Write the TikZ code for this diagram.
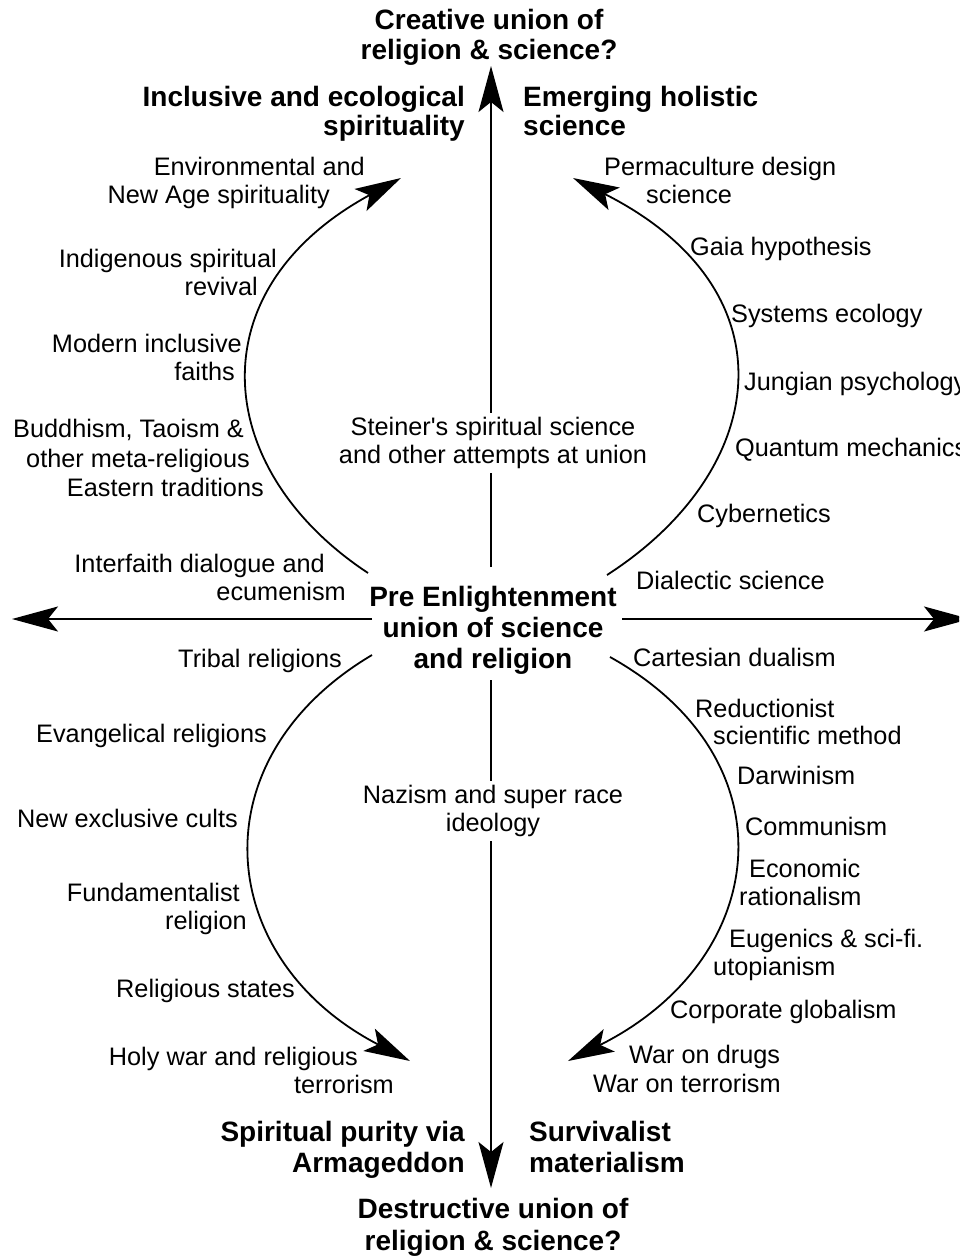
\documentclass[tikz,border=0pt]{standalone}
\usepackage{fontspec}
\setmainfont{Liberation Sans}[Ligatures=TeXOff]
\usetikzlibrary{arrows.meta}
\begin{document}
\begin{tikzpicture}[x=1pt,y=-1pt,
  labR/.style={font=\fontsize{25.3}{28}\selectfont, inner sep=0pt, anchor=base east},
  labL/.style={font=\fontsize{25.3}{28}\selectfont, inner sep=0pt, anchor=base west},
  midlab/.style={font=\fontsize{25.3}{28.5}\selectfont, align=center, fill=white, inner sep=4pt},
  hdR/.style={font=\fontsize{28}{30}\selectfont\bfseries, inner sep=0pt, anchor=base east},
  hdL/.style={font=\fontsize{28}{30}\selectfont\bfseries, inner sep=0pt, anchor=base west},
  hdC/.style={font=\fontsize{28}{30}\selectfont\bfseries, inner sep=0pt, anchor=base},
  ctrlab/.style={font=\fontsize{28}{31}\selectfont\bfseries, align=center, inner sep=2pt},
  arr/.style={line width=1.8pt, -{Stealth[length=46pt,width=25pt,inset=10pt]}}]
\useasboundingbox (0,0) rectangle (959,1257);
\clip (0,0) rectangle (959,1257);

% axis coordinates
\coordinate (L0) at (372,619);  \coordinate (Ltip) at (12,619);
\coordinate (R0) at (622,619);  \coordinate (Rtip) at (970,619);
\coordinate (U0) at (491,567);  \coordinate (Utip) at (491,66);
\coordinate (D0) at (491,680);  \coordinate (Dtip) at (491,1188);
% curve coordinates
\coordinate (ULs) at (368,573); \coordinate (ULt) at (401,178);
\coordinate (URs) at (607,575); \coordinate (URt) at (573,178);
\coordinate (LLs) at (372,655); \coordinate (LLt) at (410,1061);
\coordinate (LRs) at (610,657); \coordinate (LRt) at (568,1061);

\draw[arr] (L0) -- (Ltip);
\draw[arr] (R0) -- (Rtip);
\draw[arr] (U0) -- (Utip);
\draw[arr] (D0) -- (Dtip);
\draw[arr] (ULs) .. controls (212,470) and (195,290) .. (ULt);
\draw[arr] (URs) .. controls (770,470) and (795,290) .. (URt);
\draw[arr] (LLs) .. controls (195,760) and (215,960) .. (LLt);
\draw[arr] (LRs) .. controls (795,760) and (770,960) .. (LRt);

% centre
\node[ctrlab] (ctr) at (493,630) {Pre Enlightenment\\union of science\\and religion};
\node[midlab] (steiner) at (493,443) {Steiner's spiritual science\\and other attempts at union};
\node[midlab] (nazism) at (493,811) {Nazism and super race\\ideology};

% headings
\node[hdC] (top1) at (489,30) {Creative union of};
\node[hdC] (top2) at (489,60) {religion \& science?};
\node[hdR] (incl1) at (465,107) {Inclusive and ecological};
\node[hdR] (incl2) at (465,136) {spirituality};
\node[hdL] (emer1) at (523,107) {Emerging holistic};
\node[hdL] (emer2) at (523,136) {science};
\node[hdR] (spir1) at (465,1141) {Spiritual purity via};
\node[hdR] (spir2) at (465,1172) {Armageddon};
\node[hdL] (surv1) at (529,1141) {Survivalist};
\node[hdL] (surv2) at (529,1172) {materialism};
\node[hdC] (bot1) at (493,1218) {Destructive union of};
\node[hdC] (bot2) at (493,1250) {religion \& science?};

% upper left
\node[labR] (ul1a) at (365,176) {Environmental and};
\node[labR] (ul1b) at (330,204) {New Age spirituality};
\node[labR] (ul2a) at (277,267) {Indigenous spiritual};
\node[labR] (ul2b) at (258,295) {revival};
\node[labR] (ul3a) at (242,352) {Modern inclusive};
\node[labR] (ul3b) at (235,380) {faiths};
\node[labR] (ul4a) at (244,437) {Buddhism, Taoism \&};
\node[labR] (ul4b) at (250,467) {other meta-religious};
\node[labR] (ul4c) at (264,496) {Eastern traditions};
\node[labR] (ul5a) at (325,572) {Interfaith dialogue and};
\node[labR] (ul5b) at (346,600) {ecumenism};

% upper right
\node[labL] (ur1a) at (604,176) {Permaculture design};
\node[labL] (ur1b) at (646,204) {science};
\node[labL] (ur2) at (690,255) {Gaia hypothesis};
\node[labL] (ur3) at (731,322) {Systems ecology};
\node[labL] (ur4) at (744,390) {Jungian psychology};
\node[labL] (ur5) at (735,456) {Quantum mechanics};
\node[labL] (ur6) at (697,522) {Cybernetics};
\node[labL] (ur7) at (636,589) {Dialectic science};

% lower left
\node[labR] (ll1) at (342,667) {Tribal religions};
\node[labR] (ll2) at (267,742) {Evangelical religions};
\node[labR] (ll3) at (238,827) {New exclusive cults};
\node[labR] (ll4a) at (240,901) {Fundamentalist};
\node[labR] (ll4b) at (247,929) {religion};
\node[labR] (ll5) at (295,997) {Religious states};
\node[labR] (ll6a) at (358,1065) {Holy war and religious};
\node[labR] (ll6b) at (394,1093) {terrorism};

% lower right
\node[labL] (lr1) at (633,666) {Cartesian dualism};
\node[labL] (lr2a) at (695,717) {Reductionist};
\node[labL] (lr2b) at (713,744) {scientific method};
\node[labL] (lr3) at (737,784) {Darwinism};
\node[labL] (lr4) at (745,835) {Communism};
\node[labL] (lr5a) at (749,877) {Economic};
\node[labL] (lr5b) at (739,905) {rationalism};
\node[labL] (lr6a) at (729,947) {Eugenics \& sci-fi.};
\node[labL] (lr6b) at (713,975) {utopianism};
\node[labL] (lr7) at (670,1018) {Corporate globalism};
\node[labL] (lr8a) at (629,1063) {War on drugs};
\node[labL] (lr8b) at (593,1092) {War on terrorism};
\end{tikzpicture}
\end{document}
